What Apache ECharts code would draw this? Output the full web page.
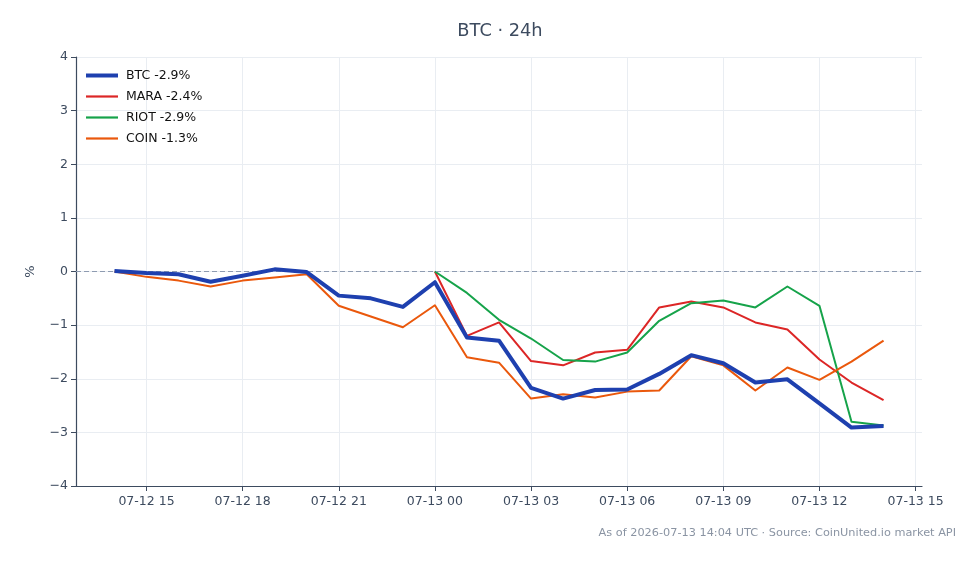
<!DOCTYPE html>
<html><head><meta charset="utf-8">
<script src="https://cdn.jsdelivr.net/npm/echarts@6/dist/echarts.min.js"></script>
<style>html,body{margin:0;padding:0;background:#fff}#c{width:980px;height:564px}</style>
</head><body><div id="c"></div>
<script>
// hours since 2026-07-12 00:00 UTC
const hours = [14,15,16,17,18,19,20,21,22,23,24,25,26,27,28,29,30,31,32,33,34,35,36,37,38];
const tickHours = [15,18,21,24,27,30,33,36,39];
const btc  = [0.01,-0.03,-0.05,-0.19,-0.08,0.04,-0.01,-0.45,-0.50,-0.66,-0.20,-1.23,-1.29,-2.17,-2.37,-2.21,-2.20,-1.91,-1.56,-1.71,-2.07,-2.01,-2.46,-2.91,-2.88];
const mara = [null,null,null,null,null,null,null,null,null,null,0.00,-1.20,-0.95,-1.67,-1.75,-1.51,-1.46,-0.67,-0.56,-0.67,-0.95,-1.08,-1.64,-2.07,-2.40];
const riot = [null,null,null,null,null,null,null,null,null,null,0.00,-0.40,-0.90,-1.25,-1.65,-1.68,-1.51,-0.92,-0.59,-0.54,-0.67,-0.28,-0.64,-2.80,-2.87];
const coin = [0.00,-0.10,-0.17,-0.28,-0.17,-0.11,-0.05,-0.64,-0.84,-1.04,-0.63,-1.60,-1.70,-2.37,-2.29,-2.35,-2.24,-2.22,-1.58,-1.75,-2.22,-1.79,-2.02,-1.68,-1.29];
const names = ['BTC -2.9%','MARA -2.4%','RIOT -2.9%','COIN -1.3%'];
const colors = ['#1e40af','#dc2626','#16a34a','#ea580c'];
const widths = [4,2,2,2];
const allSeries = [btc, mara, riot, coin];

function fmtHour(v){
  const day = v >= 24 ? '07-13' : '07-12';
  const h = ((v % 24) + 24) % 24;
  return day + ' ' + String(h).padStart(2,'0');
}
const font = 'DejaVu Sans';
const chart = echarts.init(document.getElementById('c'), null, {renderer:'canvas'});
chart.setOption({
  animation:false,
  backgroundColor:'#fff',
  textStyle:{fontFamily:font},
  graphic:[
    {type:'text', x:500, y:31, style:{text:'BTC · 24h', fontFamily:font, fontSize:17.8, fill:'#3d4b5f', textAlign:'center', textVerticalAlign:'middle'}},
    {type:'text', right:24, top:528, style:{text:'As of 2026-07-13 14:04 UTC · Source: CoinUnited.io market API', fontFamily:font, fontSize:11.3, fill:'#8a94a3'}}
  ],
  legend:{orient:'vertical', left:86, top:69, padding:0, itemGap:8, itemWidth:32, itemHeight:14,
    textStyle:{fontFamily:font, fontSize:12.5, color:'#111', padding:[0,0,0,3]},
    data:names.map((n,i)=>({name:n,
      icon: widths[i]===4 ? 'path://M0,0L32,0L32,4L0,4Z' : 'path://M0,0L32,0L32,2.2L0,2.2Z',
      itemStyle:{color:colors[i]}})) },
  grid:{left:76, right:58, top:57, bottom:78, containLabel:false},
  xAxis:{type:'value', min:12.8, max:39.2,
    axisLine:{show:true, onZero:false, lineStyle:{color:'#3d4b5f', width:1.2}},
    axisTick:{show:true, length:5, customValues:tickHours, lineStyle:{color:'#3d4b5f'}},
    axisLabel:{customValues:tickHours, formatter:fmtHour, color:'#3d4b5f', fontSize:12.5, margin:9, fontFamily:font},
    splitLine:{show:true, lineStyle:{color:'#e9edf2', width:1}}},
  yAxis:{type:'value', min:-4, max:4, interval:1, name:'%', nameLocation:'middle', nameGap:39, nameRotate:90,
    nameTextStyle:{color:'#3d4b5f', fontSize:13, fontFamily:font},
    axisLine:{show:true, lineStyle:{color:'#3d4b5f', width:1.2}},
    axisTick:{show:true, length:5, lineStyle:{color:'#3d4b5f'}},
    axisLabel:{formatter:v=> v<0 ? '\u2212'+Math.abs(v) : String(v), color:'#3d4b5f', fontSize:12.5, margin:8, fontFamily:font},
    splitLine:{show:true, lineStyle:{color:'#e9edf2', width:1}}},
  series: allSeries.map((arr,i)=>({
    name:names[i], type:'line', symbol:'none', z: i===0 ? 5 : 3,
    data: hours.map((h,j)=>[h, arr[j]]),
    connectNulls:false,
    lineStyle:{color:colors[i], width:widths[i], join:'round'},
    itemStyle:{color:colors[i]},
    markLine: i===0 ? {silent:true, symbol:['none','none'], label:{show:false},
      lineStyle:{color:'#8e9bb1', type:[5,3], width:1}, data:[{yAxis:0}]} : undefined
  }))
});
</script></body></html>
